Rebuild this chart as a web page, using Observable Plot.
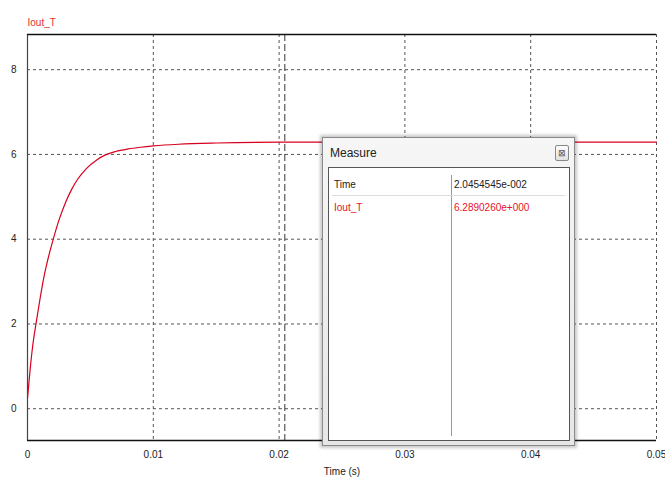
<!DOCTYPE html>
<html>
<head>
<meta charset="utf-8">
<script src="https://cdn.jsdelivr.net/npm/d3@7"></script>
<script src="https://cdn.jsdelivr.net/npm/@observablehq/plot@0.6"></script>
<style>
  body { margin: 0; background: #fff; }
  #wrap { position: relative; width: 665px; height: 477px; overflow: hidden; font-family: "Liberation Sans Narrow", "Liberation Sans", sans-serif; }
  #dlg { position: absolute; left: 322px; top: 137px; width: 253px; height: 309px; box-sizing: border-box;
         border: 1px solid #8a8a8a; background: linear-gradient(#f6f6f6, #e6e6e6);
         box-shadow: 0 0 3px 2px rgba(0,0,0,0.22); }
  #dlg .ttl { position: absolute; left: 7px; top: 8px; font-size: 12px; color: #222; }
  #dlg .close { position: absolute; right: 5px; top: 7px; width: 14px; height: 16px; box-sizing: border-box;
         border: 1px solid #888; background: linear-gradient(#fdfdfd, #e2e2e2); border-radius: 2px;
         font-size: 9px; line-height: 14px; text-align: center; color: #555; }
  #dlg .panel { position: absolute; left: 5px; top: 29px; width: 242px; height: 274px; box-sizing: border-box;
         border: 1px solid #555; background: #fff; }
  #dlg .div { position: absolute; left: 122px; top: 7px; width: 1px; height: 261px; background: #999; }
  #dlg .sep { position: absolute; left: 3px; top: 27px; width: 233px; height: 1px; background: #ddd; }
  #dlg .cell { position: absolute; font-size: 10px; white-space: nowrap; }
</style>
</head>
<body>
<div id="wrap"></div>
<script>
const seriesName = "Iout_T";
const timeS = [0, 0.0002, 0.0004, 0.0007, 0.001, 0.0013, 0.0016, 0.002, 0.0025, 0.003, 0.0035, 0.004, 0.0047, 0.0055, 0.0062, 0.007, 0.008, 0.009, 0.01, 0.012, 0.015, 0.02, 0.025, 0.03, 0.04, 0.05];
const ioutT = [0.25, 0.9, 1.45, 2.05, 2.6, 3.1, 3.5, 3.95, 4.45, 4.85, 5.17, 5.42, 5.67, 5.87, 5.99, 6.07, 6.13, 6.17, 6.2, 6.24, 6.27, 6.289, 6.29, 6.29, 6.29, 6.29];
const xTicks = [0, 0.01, 0.02, 0.03, 0.04, 0.05];
const xTickLabels = ["0", "0.01", "0.02", "0.03", "0.04", "0.05"];
const yTicks = [0, 2, 4, 6, 8];
const cursorTime = 0.020454545;
const measureTime = "2.0454545e-002";
const measureValue = "6.2890260e+000";

const data = timeS.map((t, i) => ({t, v: ioutT[i]}));
const yMin = -0.75, yMax = 8.83;

const chart = Plot.plot({
  width: 665, height: 477,
  marginLeft: 27, marginRight: 9, marginTop: 34, marginBottom: 37,
  style: {fontFamily: '"Liberation Sans Narrow", "Liberation Sans", sans-serif', fontSize: "10px", color: "#222", overflow: "visible"},
  x: {domain: [0, 0.05]},
  y: {domain: [yMin, yMax]},
  marks: [
    Plot.gridX(xTicks.slice(1), {stroke: "#555", strokeOpacity: 1, strokeDasharray: "3,3"}),
    Plot.gridY(yTicks, {stroke: "#555", strokeOpacity: 1, strokeDasharray: "3,3"}),
    Plot.ruleX([cursorTime], {stroke: "#333", strokeDasharray: "7,3"}),
    Plot.ruleX([0], {stroke: "#444", strokeWidth: 1.2}),
    Plot.ruleY([yMax], {stroke: "#111", strokeWidth: 1.5}),
    Plot.ruleY([yMin], {stroke: "#111", strokeWidth: 1.5}),
    Plot.line(data, {x: "t", y: "v", stroke: "#d8001e", strokeWidth: 1.2, curve: "monotone-x"}),
    Plot.axisX(xTicks, {tickSize: 0, tickPadding: 10, tickFormat: (d, i) => xTickLabels[i], label: "Time (s)", labelAnchor: "center", labelOffset: 34, labelArrow: "none"}),
    Plot.axisY(yTicks, {tickSize: 0, tickPadding: 11, label: null}),
    Plot.text([seriesName], {frameAnchor: "top-left", dy: -16, textAnchor: "start", fill: "#e03030", fontSize: 10})
  ]
});

const wrap = document.getElementById("wrap");
wrap.appendChild(chart);

const dlg = document.createElement("div");
dlg.id = "dlg";
dlg.innerHTML = `
  <div class="ttl">Measure</div>
  <div class="close">&#x22A0;</div>
  <div class="panel">
    <div class="div"></div>
    <div class="sep"></div>
    <div class="cell" style="left:5px;top:11px;color:#222">Time</div>
    <div class="cell" style="left:125px;top:11px;color:#222">${measureTime}</div>
    <div class="cell" style="left:5px;top:34px;color:#e8102a">${seriesName}</div>
    <div class="cell" style="left:125px;top:34px;color:#e8102a">${measureValue}</div>
  </div>`;
wrap.appendChild(dlg);
</script>
</body>
</html>
